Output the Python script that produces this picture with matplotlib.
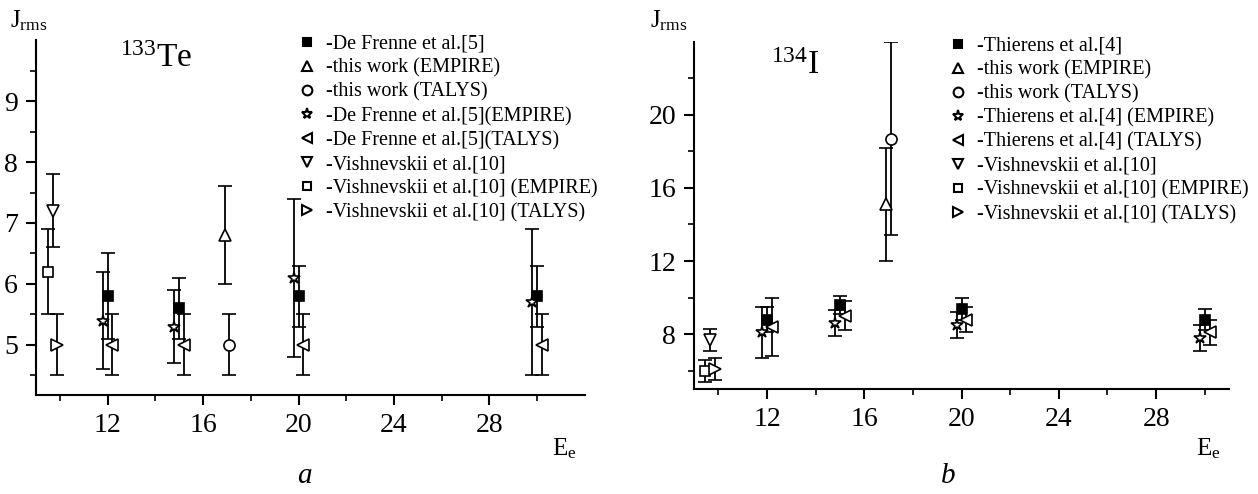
import matplotlib.pyplot as plt
from matplotlib.lines import Line2D
from matplotlib.ticker import FixedLocator

plt.rcParams['font.family'] = ['Liberation Serif', 'DejaVu Serif']
plt.rcParams['mathtext.fontset'] = 'custom'
plt.rcParams['mathtext.rm'] = 'Liberation Serif'
plt.rcParams['mathtext.it'] = 'Liberation Serif:italic'

# --- panel a: 133Te ---
te_labels = ['-De Frenne et al.[5]', '-this work (EMPIRE)', '-this work (TALYS)',
             '-De Frenne et al.[5](EMPIRE)', '-De Frenne et al.[5](TALYS)',
             '-Vishnevskii et al.[10]', '-Vishnevskii et al.[10] (EMPIRE)',
             '-Vishnevskii et al.[10] (TALYS)']
te_x = [[12, 15, 20, 30], [16.9], [17.1], [11.8, 14.8, 19.8, 29.8],
        [12.2, 15.2, 20.2, 30.2], [9.7], [9.5], [9.9]]
te_y = [[5.8, 5.6, 5.8, 5.8], [6.8], [5.0], [5.4, 5.3, 6.1, 5.7],
        [5.0, 5.0, 5.0, 5.0], [7.2], [6.2], [5.0]]
te_err = [[0.7, 0.5, 0.5, 0.5], [0.8], [0.5], [0.8, 0.6, 1.3, 1.2],
          [0.5, 0.5, 0.5, 0.5], [0.6], [0.7], [0.5]]

# --- panel b: 134I ---
i_labels = ['-Thierens et al.[4]', '-this work (EMPIRE)', '-this work (TALYS)',
            '-Thierens et al.[4] (EMPIRE)', '-Thierens et al.[4] (TALYS)',
            '-Vishnevskii et al.[10]', '-Vishnevskii et al.[10] (EMPIRE)',
            '-Vishnevskii et al.[10] (TALYS)']
i_x = [[12, 15, 20, 30], [16.9], [17.1], [11.8, 14.8, 19.8, 29.8],
       [12.2, 15.2, 20.2, 30.2], [9.65], [9.45], [9.85]]
i_y = [[8.8, 9.6, 9.4, 8.8], [15.1], [18.7], [8.1, 8.6, 8.5, 7.8],
       [8.4, 9.0, 8.8, 8.1], [7.7], [6.0], [6.1]]
i_err = [[0.7, 0.5, 0.6, 0.6], [3.1], [5.3], [1.4, 0.7, 0.7, 0.7],
         [1.6, 0.8, 0.7, 0.7], [0.6], [0.6], [0.6]]

x_major = [12, 16, 20, 24, 28]
x_minor = [10, 14, 18, 22, 26, 30]
te_ymajor = [5, 6, 7, 8, 9]
te_yminor = [4.5, 5.5, 6.5, 7.5, 8.5, 9.5]
i_ymajor = [8, 12, 16, 20]
i_yminor = [6, 10, 14, 18, 22]

markers = ['s', '^', 'o', '*', '<', 'v', 's', '>']
filled = [True, False, False, False, False, False, False, False]
msizes = [7, 8, 8, 9, 8, 8, 7, 8]

fig = plt.figure(figsize=(12.58, 4.94), dpi=100)
ax1 = fig.add_axes([0.0286, 0.2004, 0.4364, 0.7186])
ax2 = fig.add_axes([0.5517, 0.2126, 0.4253, 0.7030])


def draw(ax, xs, ys, errs, labels, xlim, ylim, ymaj, ymin, leg_anchor):
    handles = []
    for x, y, e, m, f, ms, lab in zip(xs, ys, errs, markers, filled, msizes, labels):
        fc = 'black' if f else 'white'
        ax.errorbar(x, y, yerr=e, fmt=m, ms=ms, mfc=fc, mec='black', mew=1.2,
                    ecolor='black', elinewidth=1.3, capsize=5, capthick=1.3, zorder=3)
        handles.append(Line2D([], [], ls='none', marker=m, ms=ms - 1, mfc=fc,
                              mec='black', mew=1.5))
    ax.set_xlim(*xlim)
    ax.set_ylim(*ylim)
    ax.xaxis.set_major_locator(FixedLocator(x_major))
    ax.xaxis.set_minor_locator(FixedLocator(x_minor))
    ax.yaxis.set_major_locator(FixedLocator(ymaj))
    ax.yaxis.set_minor_locator(FixedLocator(ymin))
    for s in ['top', 'right']:
        ax.spines[s].set_visible(False)
    for s in ['left', 'bottom']:
        ax.spines[s].set_linewidth(1.5)
    ax.tick_params(which='major', length=7, width=1.5, labelsize=20, pad=6)
    ax.tick_params(which='minor', length=4, width=1.2)
    ax.legend(handles, labels, loc='upper left', bbox_to_anchor=leg_anchor,
              frameon=False, fontsize=14.5, handlelength=1.0, handletextpad=0.45,
              labelspacing=0.24, borderpad=0, borderaxespad=0)


draw(ax1, te_x, te_y, te_err, te_labels, (9, 32), (4.18, 10), te_ymajor, te_yminor,
     (0.475, 1.015))
draw(ax2, i_x, i_y, i_err, i_labels, (9, 31), (5, 24), i_ymajor, i_yminor,
     (0.474, 1.015))

# headings and axis labels
fig.text(0.008, 0.945, r'J$_{\rm rms}$', fontsize=18)
fig.text(0.517, 0.945, r'J$_{\rm rms}$', fontsize=18)
fig.text(0.095, 0.865, r'$^{133}$Te', fontsize=24)
fig.text(0.613, 0.85, r'$^{134}$I', fontsize=24)
fig.text(0.439, 0.078, r'E$_{\rm e}$', fontsize=18)
fig.text(0.951, 0.078, r'E$_{\rm e}$', fontsize=18)
fig.text(0.236, 0.022, 'a', fontsize=21, style='italic')
fig.text(0.748, 0.022, 'b', fontsize=21, style='italic')

fig.savefig('out.png', dpi=100)
